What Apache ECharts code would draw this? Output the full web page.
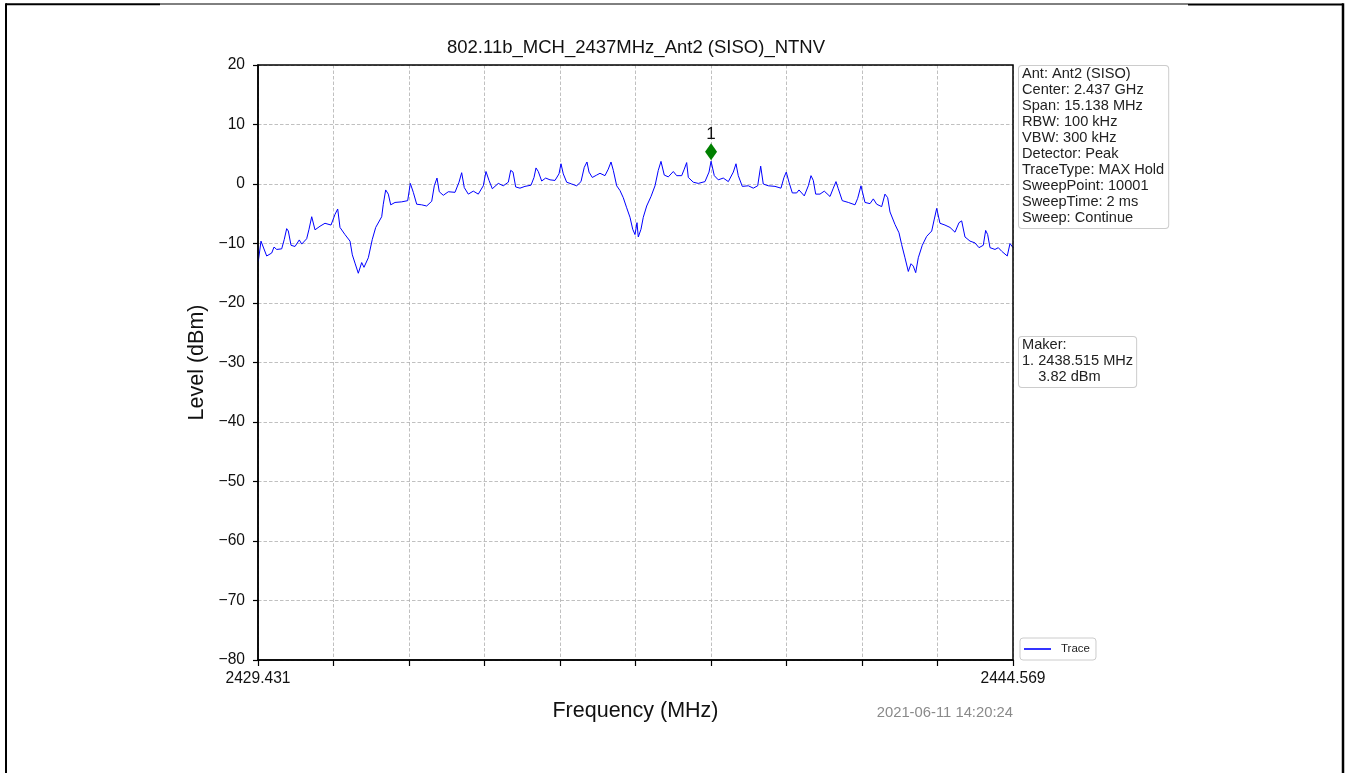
<!DOCTYPE html>
<html>
<head>
<meta charset="utf-8">
<script src="https://cdn.jsdelivr.net/npm/echarts@6/dist/echarts.min.js"></script>
<style>
  html, body { margin: 0; padding: 0; background: #fff; }
  #spectrum_con { width: 1346px; height: 773px; }
</style>
</head>
<body>
<div id="spectrum_con"></div>
<script>
// trace (MHz, dBm)
const freqMHz = [
  2429.437, 2429.491, 2429.531, 2429.605, 2429.706, 2429.752, 2429.806, 2429.906, 2429.958, 2430.006,
  2430.039, 2430.093, 2430.173, 2430.259, 2430.307, 2430.407, 2430.454, 2430.508, 2430.574, 2430.674,
  2430.774, 2430.895, 2430.975, 2431.029, 2431.075, 2431.175, 2431.276, 2431.322, 2431.376, 2431.442,
  2431.510, 2431.556, 2431.643, 2431.723, 2431.791, 2431.911, 2431.943, 2431.991, 2432.044, 2432.092,
  2432.178, 2432.312, 2432.432, 2432.485, 2432.545, 2432.613, 2432.713, 2432.813, 2432.914, 2432.966,
  2433.020, 2433.066, 2433.146, 2433.247, 2433.381, 2433.461, 2433.515, 2433.567, 2433.648, 2433.748,
  2433.848, 2433.948, 2434.002, 2434.063, 2434.129, 2434.249, 2434.349, 2434.450, 2434.498, 2434.544,
  2434.598, 2434.684, 2434.784, 2434.905, 2434.965, 2435.005, 2435.051, 2435.119, 2435.199, 2435.286,
  2435.386, 2435.466, 2435.506, 2435.552, 2435.620, 2435.721, 2435.821, 2435.907, 2435.973, 2436.027,
  2436.068, 2436.134, 2436.222, 2436.288, 2436.388, 2436.454, 2436.509, 2436.555, 2436.623, 2436.689,
  2436.755, 2436.823, 2436.890, 2436.944, 2436.990, 2437.030, 2437.056, 2437.110, 2437.156, 2437.224,
  2437.311, 2437.391, 2437.457, 2437.511, 2437.577, 2437.658, 2437.758, 2437.826, 2437.926, 2437.978,
  2438.026, 2438.059, 2438.159, 2438.259, 2438.393, 2438.474, 2438.515, 2438.580, 2438.660, 2438.760,
  2438.861, 2438.961, 2439.015, 2439.061, 2439.141, 2439.262, 2439.362, 2439.450, 2439.510, 2439.562,
  2439.663, 2439.797, 2439.917, 2439.977, 2440.023, 2440.078, 2440.144, 2440.232, 2440.278, 2440.384,
  2440.465, 2440.519, 2440.565, 2440.613, 2440.699, 2440.785, 2440.900, 2440.966, 2441.020, 2441.066,
  2441.146, 2441.267, 2441.401, 2441.455, 2441.521, 2441.555, 2441.601, 2441.702, 2441.768, 2441.836,
  2441.936, 2442.002, 2442.056, 2442.103, 2442.203, 2442.283, 2442.337, 2442.403, 2442.470, 2442.524,
  2442.570, 2442.618, 2442.670, 2442.750, 2442.838, 2442.939, 2442.991, 2443.039, 2443.105, 2443.205,
  2443.306, 2443.406, 2443.486, 2443.540, 2443.606, 2443.707, 2443.807, 2443.887, 2443.973, 2444.021,
  2444.061, 2444.108, 2444.208, 2444.274, 2444.342, 2444.454, 2444.509, 2444.569
];
const levelDbm = [
  -13.0, -9.6, -9.9, -12.1, -11.6, -10.6, -11.0, -10.9, -9.3, -7.5,
  -7.9, -10.3, -10.5, -9.4, -10.1, -9.2, -7.6, -5.5, -7.7, -7.1,
  -6.6, -6.9, -5.1, -4.2, -7.3, -8.5, -9.6, -11.9, -13.3, -15.0,
  -13.2, -14.0, -12.4, -9.3, -7.3, -5.5, -3.4, -1.0, -1.7, -3.5,
  -3.1, -3.0, -2.8, 0.1, -1.4, -3.4, -3.5, -3.7, -2.9, -0.3,
  1.0, -1.3, -1.9, -1.3, -1.4, 0.3, 1.9, -0.6, -1.7, -1.2,
  -1.7, -0.3, 2.1, 0.6, -0.8, 0.1, -0.3, 0.3, 2.3, 2.0,
  -0.5, -0.7, -0.4, -0.2, 1.1, 2.7, 2.1, 0.5, 1.0, 0.7,
  0.6, 1.7, 3.4, 1.7, 0.3, 0.0, -0.3, 0.4, 2.8, 3.7,
  2.0, 1.1, 1.5, 1.8, 1.4, 2.5, 3.7, 2.3, -0.3, -1.1,
  -2.3, -4.0, -5.6, -7.6, -8.5, -6.5, -8.9, -7.6, -5.6, -3.7,
  -2.1, -0.3, 2.3, 3.8, 1.5, 1.2, 2.1, 1.4, 1.4, 2.5,
  3.6, 1.1, 0.3, 0.1, 0.4, 2.0, 3.82, 1.4, 0.7, 1.0,
  0.4, 2.0, 3.4, 1.4, -0.4, -0.3, -0.7, -0.3, 3.0, 0.0,
  -0.3, -0.4, -0.7, 1.1, 2.0, 0.3, -1.5, -1.5, -1.0, -2.0,
  -0.3, 1.4, 0.6, -1.7, -1.7, -1.2, -2.1, -0.7, 0.4, -0.8,
  -2.8, -3.1, -3.5, -2.4, -0.3, -0.6, -3.1, -3.3, -2.5, -3.4,
  -3.8, -1.7, -2.3, -4.7, -6.8, -8.2, -10.2, -12.4, -14.7, -13.4,
  -13.8, -14.9, -12.4, -10.3, -8.8, -7.9, -5.9, -4.1, -6.6, -6.9,
  -7.3, -8.1, -6.5, -6.2, -8.9, -9.6, -9.9, -10.7, -10.3, -7.8,
  -8.5, -10.7, -11.0, -10.7, -11.3, -12.1, -10.0, -10.7
];

const freqMin = 2429.431;
const freqMax = 2444.569;
const freqStep = 1.5138;
const xTickLabels = ['2429.431', '2444.569'];

const markerFreq = [2438.515];
const markerLevel = [3.82];

const infoLines = [
  'Ant: Ant2 (SISO)',
  'Center: 2.437 GHz',
  'Span: 15.138 MHz',
  'RBW: 100 kHz',
  'VBW: 300 kHz',
  'Detector: Peak',
  'TraceType: MAX Hold',
  'SweepPoint: 10001',
  'SweepTime: 2 ms',
  'Sweep: Continue'
];
const makerLines = ['Maker:', '1. 2438.515 MHz', '    3.82 dBm'];

const FONT = '"Liberation Sans", Arial, sans-serif';

// plot box in pixels (grid)
const G = {left: 258, top: 65, width: 755, height: 595};

let chart = echarts.init(document.getElementById('spectrum_con'));

let traceData = [];
for (let i = 0; i < freqMHz.length; i++) {
    traceData.push([freqMHz[i], levelDbm[i]]);
}
let markerData = markerFreq.map((f, i) => [f, markerLevel[i]]);

const gridDash = {color: '#b0b0b0', width: 0.8, type: [3.5, 2]};

const option = {
    animation: false,
    backgroundColor: '#ffffff',
    textStyle: {fontFamily: FONT},
    grid: {
        left: G.left, top: G.top, width: G.width, height: G.height,
        containLabel: false
    },
    legend: {
        data: [{name: 'Trace', icon: 'rect'}],
        left: 1020, top: 638,
        padding: [5, 6, 5, 4],
        itemWidth: 27, itemHeight: 1.6,
        borderColor: '#cccccc', borderWidth: 1, borderRadius: 3,
        textStyle: {fontSize: 11.5, color: '#222', fontFamily: FONT, padding: [0, 0, 0, 5], lineHeight: 12}
    },
    xAxis: {
        type: 'value',
        min: freqMin, max: freqMax, interval: freqStep,
        name: 'Frequency (MHz)', nameLocation: 'middle', nameGap: 40,
        nameTextStyle: {fontSize: 21.5, color: '#111', fontFamily: FONT},
        axisLine: {onZero: false, lineStyle: {color: '#000', width: 1.5}},
        axisTick: {show: true, inside: false, length: 6, lineStyle: {color: '#000', width: 1.2}},
        axisLabel: {
            margin: 11, fontSize: 15.6, color: '#111', fontFamily: FONT,
            showMinLabel: true, showMaxLabel: true,
            formatter: function (v) {
                if (Math.abs(v - freqMin) < 1e-6) return xTickLabels[0];
                if (Math.abs(v - freqMax) < 1e-6) return xTickLabels[1];
                return '';
            }
        },
        splitLine: {show: true, lineStyle: gridDash}
    },
    yAxis: {
        type: 'value',
        min: -80, max: 20, interval: 10,
        name: 'Level (dBm)', nameLocation: 'middle', nameGap: 47, nameRotate: 90,
        nameTextStyle: {fontSize: 21.5, color: '#111', fontFamily: FONT},
        axisLine: {show: true, onZero: false, lineStyle: {color: '#000', width: 1.5}},
        axisTick: {show: true, inside: false, length: 5, lineStyle: {color: '#000', width: 1.2}},
        axisLabel: {
            margin: 13, fontSize: 15.6, color: '#111', fontFamily: FONT,
            formatter: v => String(v).replace('-', '\u2212')
        },
        splitLine: {show: true, lineStyle: gridDash}
    },
    series: [
        {
            name: 'Trace',
            type: 'line',
            data: traceData,
            symbol: 'none',
            lineStyle: {color: '#0000ff', width: 1},
            itemStyle: {color: '#0000ff'},
            z: 3
        },
        {
            name: 'Marker',
            type: 'scatter',
            data: markerData,
            symbol: 'diamond',
            symbolSize: [12, 17],
            symbolOffset: [0, -9.5],
            itemStyle: {color: '#008000', opacity: 1},
            label: {
                show: true, position: 'top', distance: 0,
                formatter: '1', fontSize: 17, color: '#111', fontFamily: FONT
            },
            z: 5
        }
    ],
    graphic: [
        // outer frame
        {type: 'line', shape: {x1: 6, y1: 4.3, x2: 160, y2: 4.3}, style: {stroke: '#000', lineWidth: 2}},
        {type: 'line', shape: {x1: 160, y1: 4, x2: 1188, y2: 4}, style: {stroke: '#000', lineWidth: 1}},
        {type: 'line', shape: {x1: 1188, y1: 4.5, x2: 1343, y2: 4.5}, style: {stroke: '#000', lineWidth: 2.2}},
        {type: 'line', shape: {x1: 6, y1: 3.3, x2: 6, y2: 773}, style: {stroke: '#000', lineWidth: 2}},
        {type: 'line', shape: {x1: 1343, y1: 3.3, x2: 1343, y2: 773}, style: {stroke: '#000', lineWidth: 2.5}},
        // plot frame drawn over the grid lines
        {
            type: 'rect', z: 20,
            shape: {x: G.left, y: G.top, width: G.width, height: G.height},
            style: {fill: null, stroke: '#000', lineWidth: 1.5}
        },
        // title
        {
            type: 'text', x: 636, y: 48,
            style: {
                text: '802.11b_MCH_2437MHz_Ant2 (SISO)_NTNV',
                fontSize: 18.5, fontFamily: FONT, fill: '#111',
                align: 'center', verticalAlign: 'middle'
            }
        },
        // settings box
        {
            type: 'text', x: 1019, y: 66,
            style: {
                text: infoLines.join('\n'),
                fontSize: 14.6, fontFamily: FONT, fill: '#222', lineHeight: 16,
                align: 'left', verticalAlign: 'top',
                backgroundColor: '#fff', borderColor: '#cccccc', borderWidth: 1, borderRadius: 3,
                padding: [0, 4, 2, 3]
            }
        },
        // marker box
        {
            type: 'text', x: 1019, y: 337,
            style: {
                text: makerLines.join('\n'),
                fontSize: 14.6, fontFamily: FONT, fill: '#222', lineHeight: 16,
                align: 'left', verticalAlign: 'top',
                backgroundColor: '#fff', borderColor: '#cccccc', borderWidth: 1, borderRadius: 3,
                padding: [0, 3, 2, 3]
            }
        },
        // timestamp
        {
            type: 'text', x: 1013, y: 713,
            style: {
                text: '2021-06-11 14:20:24',
                fontSize: 14.8, fontFamily: FONT, fill: '#8a8a8a',
                align: 'right', verticalAlign: 'middle'
            }
        }
    ]
};

chart.setOption(option);

window.addEventListener('resize', function () {
    chart.resize();
});
</script>
</body>
</html>
